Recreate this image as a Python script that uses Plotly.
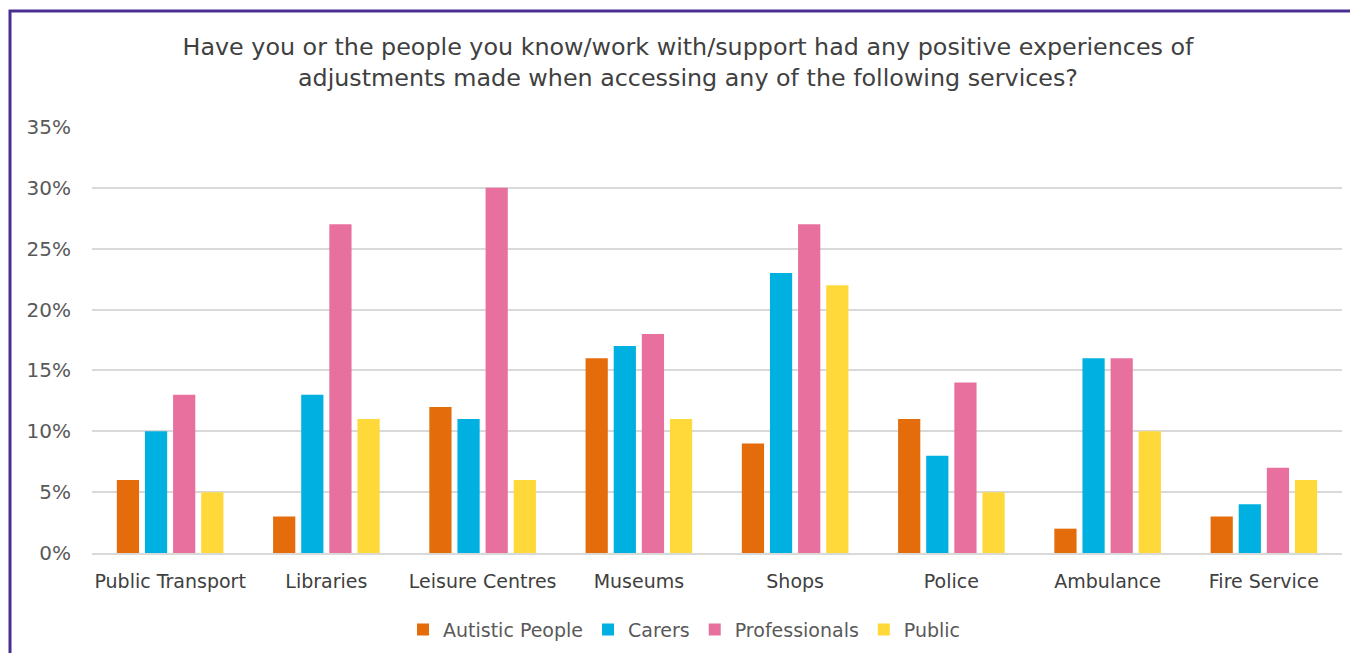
import plotly.graph_objects as go

categories = ["Public Transport", "Libraries", "Leisure Centres", "Museums",
              "Shops", "Police", "Ambulance", "Fire Service"]
autistic = [6, 3, 12, 16, 9, 11, 2, 3]
carers = [10, 13, 11, 17, 23, 8, 16, 4]
professionals = [13, 27, 30, 18, 27, 14, 16, 7]
public = [5, 11, 6, 11, 22, 5, 10, 6]

series = [
    ("Autistic People", autistic, "#E46C0A"),
    ("Carers", carers, "#00B0E0"),
    ("Professionals", professionals, "#E8709E"),
    ("Public", public, "#FFD83A"),
]

title_text = ("Have you or the people you know/work with/support had any positive experiences of<br>"
              "adjustments made when accessing any of the following services?")

FONT = "DejaVu Sans"
W, H = 1350, 645
fig = go.Figure()
for name, vals, col in series:
    fig.add_trace(go.Bar(x=categories, y=[v / 100 for v in vals], name=name,
                         marker=dict(color=col, line=dict(width=0))))

fig.update_layout(
    width=W, height=H,
    paper_bgcolor="white", plot_bgcolor="white",
    margin=dict(l=84, r=16, t=119, b=100, autoexpand=False),
    barmode="group", bargap=0.28, bargroupgap=0.21,
    font=dict(family=FONT, color="#595959"),
    title=dict(text=title_text, x=680 / W, xanchor="center", y=1 - 47 / H,
               yanchor="middle", yref="container",
               font=dict(family=FONT, size=23.8, color="#404040")),
    legend=dict(orientation="h", x=0.474, xanchor="center", y=-0.18, yanchor="middle",
                font=dict(family=FONT, size=19, color="#595959"),
                itemwidth=30, traceorder="normal"),
    showlegend=True,
)
fig.update_yaxes(range=[0, 0.35], dtick=0.05, tickformat=".0%", showgrid=True,
                 gridcolor="#D9D9D9", gridwidth=1.5, zeroline=False, showline=False,
                 tickfont=dict(family=FONT, size=20, color="#595959"),
                 ticklabelstandoff=20, automargin=False)
fig.update_xaxes(showline=True, linecolor="#D9D9D9", linewidth=1.5,
                 tickfont=dict(family=FONT, size=19, color="#404040"),
                 ticks="outside", ticklen=10, tickcolor="rgba(0,0,0,0)", automargin=False)

# purple frame
fig.add_shape(type="rect", xref="paper", yref="paper",
              x0=(2 - 84) / 1250, x1=1.05, y0=-0.4, y1=(545 - 3) / 426,
              line=dict(color="#4B2E92", width=3), fillcolor="rgba(0,0,0,0)", layer="below")

fig.write_html("out.html")
